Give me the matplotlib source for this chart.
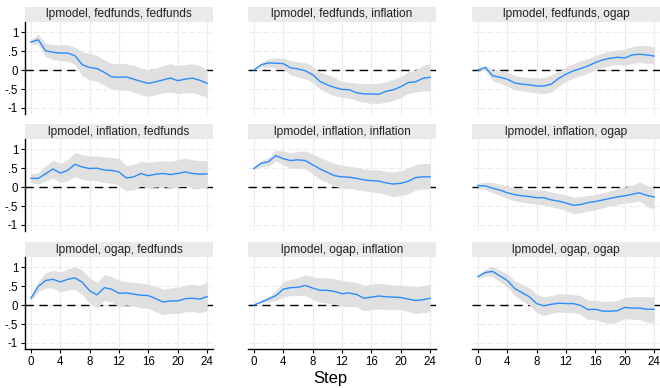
import matplotlib
matplotlib.use("Agg")
import matplotlib.pyplot as plt
from matplotlib.patches import Rectangle
import numpy as np

plt.rcParams['font.family'] = ['Liberation Sans', 'DejaVu Sans']

steps = list(range(25))

titles = [
    "lpmodel, fedfunds, fedfunds", "lpmodel, fedfunds, inflation", "lpmodel, fedfunds, ogap",
    "lpmodel, inflation, fedfunds", "lpmodel, inflation, inflation", "lpmodel, inflation, ogap",
    "lpmodel, ogap, fedfunds", "lpmodel, ogap, inflation", "lpmodel, ogap, ogap",
]

irf_ff_ff = [0.74, 0.80, 0.51, 0.47, 0.45, 0.45, 0.38, 0.14, 0.07, 0.04, -0.06, -0.18, -0.19,
             -0.18, -0.24, -0.30, -0.35, -0.31, -0.26, -0.21, -0.28, -0.24, -0.21, -0.27, -0.35]
lo_ff_ff = [0.68, 0.68, 0.35, 0.28, 0.25, 0.23, 0.15, -0.15, -0.25, -0.30, -0.40, -0.50, -0.53,
            -0.52, -0.58, -0.65, -0.70, -0.65, -0.60, -0.58, -0.62, -0.60, -0.60, -0.65, -0.73]
hi_ff_ff = [0.80, 0.95, 0.70, 0.68, 0.66, 0.67, 0.60, 0.47, 0.45, 0.38, 0.27, 0.18, 0.17,
            0.17, 0.12, 0.05, 0.00, 0.05, 0.12, 0.17, 0.12, 0.15, 0.17, 0.12, 0.00]

irf_ff_inf = [0.00, 0.14, 0.19, 0.18, 0.17, 0.06, 0.03, -0.02, -0.12, -0.30, -0.39, -0.46, -0.51,
              -0.52, -0.60, -0.63, -0.63, -0.64, -0.56, -0.52, -0.44, -0.33, -0.31, -0.22, -0.19]
lo_ff_inf = [0.00, 0.08, 0.08, 0.05, 0.02, -0.12, -0.18, -0.23, -0.33, -0.50, -0.60, -0.68, -0.72,
             -0.74, -0.80, -0.85, -0.88, -0.88, -0.85, -0.80, -0.72, -0.62, -0.58, -0.55, -0.55]
hi_ff_inf = [0.00, 0.20, 0.30, 0.32, 0.32, 0.25, 0.22, 0.20, 0.10, -0.05, -0.12, -0.20, -0.30,
             -0.32, -0.35, -0.36, -0.36, -0.35, -0.30, -0.24, -0.17, -0.05, 0.00, 0.12, 0.17]

irf_ff_og = [0.00, 0.07, -0.15, -0.19, -0.24, -0.34, -0.37, -0.39, -0.42, -0.42, -0.37, -0.22, -0.11,
             -0.02, 0.04, 0.11, 0.20, 0.27, 0.31, 0.34, 0.32, 0.40, 0.42, 0.40, 0.37]
lo_ff_og = [0.00, 0.00, -0.28, -0.35, -0.42, -0.52, -0.55, -0.58, -0.60, -0.62, -0.58, -0.42, -0.30,
            -0.20, -0.15, -0.08, 0.00, 0.08, 0.12, 0.15, 0.12, 0.18, 0.20, 0.18, 0.15]
hi_ff_og = [0.00, 0.12, 0.00, -0.02, -0.05, -0.15, -0.18, -0.20, -0.20, -0.20, -0.13, -0.03, 0.08,
            0.17, 0.25, 0.30, 0.38, 0.45, 0.50, 0.53, 0.55, 0.62, 0.65, 0.65, 0.62]

irf_inf_ff = [0.23, 0.23, 0.35, 0.48, 0.37, 0.44, 0.60, 0.53, 0.49, 0.50, 0.45, 0.44, 0.40,
              0.24, 0.27, 0.36, 0.30, 0.34, 0.36, 0.33, 0.36, 0.40, 0.36, 0.34, 0.35]
lo_inf_ff = [0.12, 0.08, 0.15, 0.25, 0.12, 0.17, 0.28, 0.20, 0.17, 0.17, 0.12, 0.10, 0.05,
             -0.10, -0.07, 0.03, -0.02, 0.00, 0.02, -0.02, 0.00, 0.03, -0.02, -0.03, -0.02]
hi_inf_ff = [0.35, 0.38, 0.55, 0.72, 0.62, 0.72, 0.92, 0.85, 0.82, 0.82, 0.80, 0.78, 0.75,
             0.57, 0.60, 0.68, 0.65, 0.68, 0.70, 0.68, 0.72, 0.77, 0.72, 0.70, 0.70]

irf_inf_inf = [0.49, 0.63, 0.67, 0.83, 0.75, 0.70, 0.72, 0.70, 0.59, 0.48, 0.39, 0.30, 0.27,
               0.26, 0.23, 0.19, 0.17, 0.16, 0.11, 0.08, 0.10, 0.15, 0.25, 0.27, 0.27]
lo_inf_inf = [0.45, 0.55, 0.55, 0.70, 0.58, 0.50, 0.50, 0.48, 0.35, 0.20, 0.12, 0.02, -0.03,
              -0.03, -0.07, -0.10, -0.13, -0.15, -0.20, -0.25, -0.22, -0.18, -0.08, -0.05, -0.05]
hi_inf_inf = [0.52, 0.70, 0.78, 0.98, 0.95, 0.90, 0.95, 0.95, 0.88, 0.78, 0.70, 0.62, 0.58,
              0.55, 0.52, 0.48, 0.46, 0.45, 0.42, 0.40, 0.43, 0.50, 0.60, 0.62, 0.62]

irf_inf_og = [0.04, 0.03, -0.03, -0.08, -0.15, -0.20, -0.23, -0.25, -0.28, -0.28, -0.34, -0.37, -0.42,
              -0.48, -0.46, -0.41, -0.38, -0.34, -0.30, -0.26, -0.23, -0.19, -0.15, -0.22, -0.26]
lo_inf_og = [0.00, -0.07, -0.15, -0.22, -0.30, -0.37, -0.40, -0.43, -0.45, -0.47, -0.52, -0.57, -0.62,
             -0.70, -0.68, -0.63, -0.60, -0.55, -0.50, -0.47, -0.43, -0.40, -0.37, -0.50, -0.58]
hi_inf_og = [0.10, 0.13, 0.12, 0.08, 0.02, -0.03, -0.05, -0.07, -0.08, -0.08, -0.13, -0.17, -0.20,
             -0.27, -0.25, -0.22, -0.20, -0.15, -0.10, -0.05, 0.00, 0.05, 0.13, 0.05, -0.02]

irf_og_ff = [0.18, 0.49, 0.65, 0.68, 0.61, 0.68, 0.72, 0.60, 0.38, 0.27, 0.46, 0.42, 0.31,
             0.32, 0.29, 0.26, 0.25, 0.17, 0.08, 0.11, 0.11, 0.17, 0.18, 0.16, 0.22]
lo_og_ff = [0.10, 0.35, 0.45, 0.45, 0.35, 0.40, 0.42, 0.28, 0.05, -0.08, 0.12, 0.08, -0.05,
            0.00, -0.03, -0.08, -0.08, -0.18, -0.25, -0.22, -0.22, -0.18, -0.17, -0.20, -0.15]
hi_og_ff = [0.25, 0.62, 0.85, 0.92, 0.87, 0.95, 1.02, 0.92, 0.72, 0.60, 0.80, 0.75, 0.65,
            0.62, 0.60, 0.58, 0.55, 0.50, 0.42, 0.45, 0.47, 0.52, 0.55, 0.52, 0.60]

irf_og_inf = [0.00, 0.08, 0.16, 0.25, 0.42, 0.46, 0.47, 0.52, 0.45, 0.39, 0.39, 0.36, 0.30,
              0.32, 0.28, 0.18, 0.21, 0.24, 0.22, 0.21, 0.20, 0.16, 0.12, 0.14, 0.18]
lo_og_inf = [0.00, 0.05, 0.08, 0.12, 0.22, 0.25, 0.25, 0.25, 0.15, 0.08, 0.05, 0.02, -0.03,
             -0.02, -0.05, -0.15, -0.12, -0.10, -0.12, -0.12, -0.12, -0.17, -0.22, -0.20, -0.18]
hi_og_inf = [0.00, 0.12, 0.22, 0.38, 0.62, 0.68, 0.72, 0.80, 0.75, 0.72, 0.72, 0.70, 0.65,
             0.62, 0.60, 0.52, 0.55, 0.58, 0.55, 0.53, 0.52, 0.50, 0.48, 0.50, 0.55]

irf_og_og = [0.75, 0.86, 0.89, 0.77, 0.65, 0.44, 0.33, 0.22, 0.04, -0.02, 0.02, 0.05, 0.04,
             0.04, -0.01, -0.12, -0.11, -0.16, -0.16, -0.15, -0.06, -0.08, -0.08, -0.11, -0.11]
lo_og_og = [0.70, 0.77, 0.75, 0.62, 0.48, 0.25, 0.12, 0.00, -0.20, -0.28, -0.22, -0.18, -0.20,
            -0.20, -0.25, -0.38, -0.38, -0.45, -0.48, -0.45, -0.35, -0.38, -0.38, -0.45, -0.48]
hi_og_og = [0.80, 0.95, 1.02, 0.92, 0.82, 0.65, 0.55, 0.45, 0.28, 0.22, 0.25, 0.30, 0.30,
            0.28, 0.25, 0.13, 0.12, 0.10, 0.10, 0.12, 0.20, 0.22, 0.22, 0.22, 0.22]

irfs = [irf_ff_ff, irf_ff_inf, irf_ff_og, irf_inf_ff, irf_inf_inf, irf_inf_og,
        irf_og_ff, irf_og_inf, irf_og_og]
los = [lo_ff_ff, lo_ff_inf, lo_ff_og, lo_inf_ff, lo_inf_inf, lo_inf_og,
       lo_og_ff, lo_og_inf, lo_og_og]
his = [hi_ff_ff, hi_ff_inf, hi_ff_og, hi_inf_ff, hi_inf_inf, hi_inf_og,
       hi_og_ff, hi_og_inf, hi_og_og]

yticks = [-1, -0.5, 0, 0.5, 1]
ytick_labels = ["-1", "-.5", "0", ".5", "1"]
xticks = [0, 4, 8, 12, 16, 20, 24]
xtick_labels = ["0", "4", "8", "12", "16", "20", "24"]

W, H = 660, 388
fig = plt.figure(figsize=(W / 100, H / 100), dpi=100)

col_left = [25, 248, 472]
row_top = [22, 139, 257]
aw, ah = 188, 92
strip_h = 15

line_color = "#2a8cff"
band_color = "#e0e0e0"
grid_color = "#ececec"

for i in range(9):
    r, c = divmod(i, 3)
    left = col_left[c] / W
    bottom = 1 - (row_top[r] + ah) / H
    ax = fig.add_axes([left, bottom, aw / W, ah / H])
    ax.set_xlim(-0.8, 24.8)
    ax.set_ylim(-1.16, 1.27)
    for yv in yticks:
        ax.axhline(yv, color=grid_color, lw=0.8, ls=(0, (5, 2)), zorder=0)
    for xv in xticks:
        ax.axvline(xv, color=grid_color, lw=0.8, zorder=0)
    ax.axhline(0, color="black", lw=1.0, ls=(0, (6, 4)), zorder=1)
    ax.fill_between(steps, los[i], his[i], color=band_color, lw=0, zorder=2)
    ax.plot(steps, irfs[i], color=line_color, lw=1.0, zorder=3)

    for s in ["top", "right"]:
        ax.spines[s].set_visible(False)
    ax.spines["left"].set_visible(c == 0)
    ax.spines["bottom"].set_visible(r == 2)
    ax.spines["left"].set_linewidth(1.0)
    ax.spines["bottom"].set_linewidth(1.0)

    ax.set_yticks(yticks)
    ax.set_xticks(xticks)
    if c == 0:
        ax.set_yticklabels(ytick_labels, fontsize=8.3)
        ax.tick_params(axis="y", length=3, width=0.8, pad=2)
    else:
        ax.tick_params(axis="y", left=False, labelleft=False)
    if r == 2:
        ax.set_xticklabels(xtick_labels, fontsize=8.3)
        ax.tick_params(axis="x", length=3, width=0.8, pad=2)
    else:
        ax.tick_params(axis="x", bottom=False, labelbottom=False)

    sh = strip_h / ah
    ax.add_patch(Rectangle((0, 1), 1, sh, transform=ax.transAxes,
                           facecolor="#eaeaea", edgecolor="none", clip_on=False))
    ax.text(0.5, 1 + sh / 2, titles[i], transform=ax.transAxes, ha="center",
            va="center", fontsize=8.6, color="#222222")

fig.text(330 / W, 1 - 379 / H, "Step", ha="center", va="center", fontsize=12)

fig.savefig("out.png", dpi=100)
